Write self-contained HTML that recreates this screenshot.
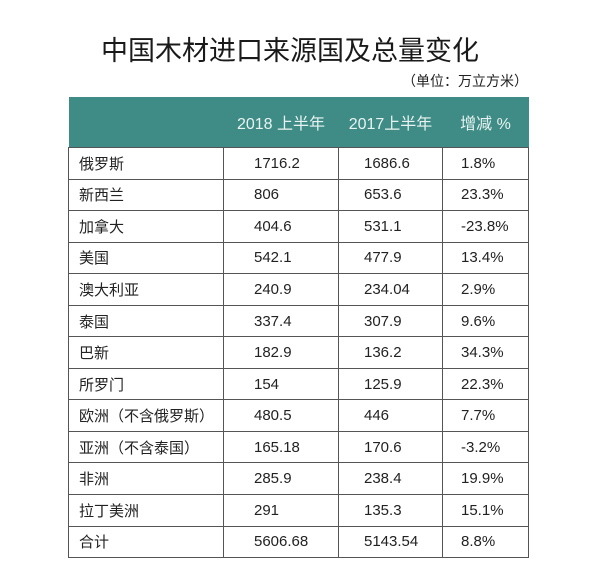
<!DOCTYPE html>
<html><head><meta charset="utf-8"><style>
body{margin:0;width:600px;height:565px;background:#fff;position:relative;font-family:"Liberation Sans","Noto Sans CJK SC",sans-serif;color:#222;overflow:hidden}
#title{position:absolute;left:0;width:580px;top:29px;text-align:center;font-size:27px;color:#1a1a1a}
#unit{position:absolute;right:72px;top:71px;font-size:14px;color:#222}
table{position:absolute;left:68px;top:97px;border-collapse:collapse;width:461px;font-size:15px}
th{background:#3f8c86;color:#e8f3f1;font-weight:normal;height:50px;font-size:16px;padding:0}
td{height:30.55px;border:1px solid #555;padding:0}
td:first-child{padding-left:10px;width:144px}
td:nth-child(2){width:115px;padding-left:30px;box-sizing:border-box}
td:nth-child(3){width:104px;padding-left:25px;box-sizing:border-box}
td:nth-child(4){padding-left:18px}
</style></head><body>
<div id="title">中国木材进口来源国及总量变化</div>
<div id="unit">（单位：万立方米）</div>
<table>
<thead><tr><th></th><th>2018 上半年</th><th>2017上半年</th><th>增减 %</th></tr></thead>
<tbody id="tb"></tbody></table>
<script>
const regions=["俄罗斯","新西兰","加拿大","美国","澳大利亚","泰国","巴新","所罗门","欧洲（不含俄罗斯）","亚洲（不含泰国）","非洲","拉丁美洲","合计"];
const v2018=["1716.2","806","404.6","542.1","240.9","337.4","182.9","154","480.5","165.18","285.9","291","5606.68"];
const v2017=["1686.6","653.6","531.1","477.9","234.04","307.9","136.2","125.9","446","170.6","238.4","135.3","5143.54"];
const change=["1.8%","23.3%","-23.8%","13.4%","2.9%","9.6%","34.3%","22.3%","7.7%","-3.2%","19.9%","15.1%","8.8%"];
const tb=document.getElementById('tb');
regions.forEach((r,i)=>{
const tr=document.createElement('tr');


[r,v2018[i],v2017[i],change[i]].forEach(t=>{const td=document.createElement('td');td.textContent=t;


tr.appendChild(td);});
tb.appendChild(tr);});
</script>
</body></html>
